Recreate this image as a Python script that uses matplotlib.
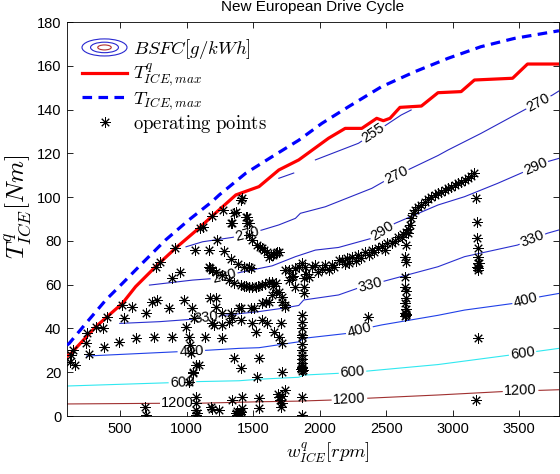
import numpy as np
import matplotlib
matplotlib.use('Agg')
import matplotlib.pyplot as plt
from matplotlib.legend_handler import HandlerBase
from matplotlib.patches import Ellipse
from matplotlib.lines import Line2D

plt.rcParams['font.family'] = ['Liberation Sans', 'DejaVu Sans']
plt.rcParams['mathtext.fontset'] = 'cm'

# ---- max torque curves
tmax_rpm = [100, 117, 242, 392, 517, 666, 841, 1015, 1190, 1245, 1444, 1643, 1843, 2017, 2217, 2464, 2716,
            2965, 3212, 3464, 3800]
tmax_T = [32.4, 33.2, 42.3, 53, 60.6, 69.8, 80.4, 89.5, 97.9, 101, 110.9, 118.5, 126, 133.7, 141.3, 150.4, 157.3,
          163.4, 168.7, 172.5, 176]

tqmax_rpm = [100, 130, 317, 517, 616, 766, 915, 1090, 1215, 1370, 1544, 1693, 1843, 2067, 2192, 2317, 2429,
             2479, 2529, 2604, 2765, 2890, 3064, 3164, 3451, 3563, 3800]
tqmax_T = [27.3, 28.6, 40.8, 51.5, 59.1, 68.2, 76.6, 85.7, 92.6, 101, 104.8, 112.4, 117, 126.9, 131.4, 131.4, 136,
           134.9, 136, 141, 141.6, 147.7, 148.2, 153.5, 154.3, 160.8, 160.8]

# ---- BSFC iso-lines [g/kWh]
bsfc_levels = [255, 270, 290, 330, 400, 600, 1200]
bsfc_rpm = {
    255: [1693, 1805, np.nan, 1968, 2292, 2613, 2688],
    270: [995, 1120, 1344, 1568, 1693, 1818, 1855, 2043, 2392, 2479, 2690, 2890, 2965, 3213, 3538, 3750, 3800],
    290: [720, 1045, 1220, 1394, 1643, 1818, 1968, 2142, 2392, 2566, 2890, 3090, 3339, 3713, 3800],
    330: [497, 796, 1045, 1295, 1544, 1718, 1843, 1880, 2142, 2292, 2491, 2890, 3090, 3488, 3713, 3800],
    400: [247, 945, 1145, 1394, 1544, 1843, 1880, 2217, 2404, 2466, 2890, 3090, 3464, 3660, 3800],
    600: [100, 870, 1070, 1394, 1544, 1843, 1880, 2142, 2354, 2890, 3439, 3800],
    1200: [100, 796, 1070, 1544, 1843, 2092, 2354, 2890, 3388, 3800],
}
bsfc_T = {
    255: [108.6, 111, np.nan, 117, 124.6, 137.5, 139.8],
    270: [77.3, 79.6, 81.6, 85, 87.3, 90.3, 92.6, 95.6, 104, 107, 113.2, 119, 121.5, 129.1, 139.8, 146.6, 148.5],
    290: [59.8, 62.1, 62.9, 65.5, 68.6, 72.8, 75.8, 77, 81.2, 88, 96.4, 100.2, 106.3, 116.2, 117.7],
    330: [42.3, 43.1, 44.2, 46.1, 47.7, 49.2, 50.5, 53, 55.3, 58.5, 61.7, 68.2, 72.8, 78.1, 83.5, 85],
    400: [27.4, 29.4, 30, 30.9, 31.2, 33.9, 35.5, 37.8, 40.8, 41.6, 46, 48.4, 51.5, 54.5, 56],
    600: [13.7, 15.2, 15.7, 16.1, 16.8, 17.7, 18.7, 19.5, 20.5, 23.5, 27.9, 30.9],
    1200: [5.5, 5.8, 5.8, 6.5, 6.8, 7.3, 8.1, 9.6, 11.2, 12],
}
bsfc_colors = {255: '#2828c4', 270: '#2828c4', 290: '#2828c8', 330: '#2a30d0',
               400: '#2040e8', 600: '#30e8f0', 1200: '#a03030'}
# label positions (rpm) per level
bsfc_label_rpm = {
    255: [2404],
    270: [1455, 2576, 3645],
    290: [1282, 2471, 3623],
    330: [1147, 2381, 3600],
    400: [1035, 2299, 3550],
    600: [968, 2247, 3526],
    1200: [930, 2224, 3511],
}

# ---- operating points of the cycle
op_rpm = [122, 130, 147, 160, 242, 247, 267, 317, 367, 379, 404, 491, 517, 529, 591, 616, 691, 741, 778,
          766, 803, 753, 865, 890, 890, 915, 953, 977, 1040, 1052, 1015, 1027, 1140, 995, 1033, 1065,
          1102, 1120, 1165, 1177, 1177, 1202, 1194, 1270, 1357, 1344, 1332, 1407, 1419, 1456, 1456, 1369,
          1225, 1282, 1332, 1388, 1432, 1469, 1482,
          1170, 1194, 1220, 1269, 1319, 1357, 1407, 1430, 1445, 1469, 1490, 1519, 1540, 1568, 1590,
          1618, 1640, 1650, 1668, 1693, 1718, 1743,
          1444, 1469, 1469, 1494, 1531, 1550, 1568, 1585, 1606, 1631, 1618, 1650, 1668, 1680, 1693,
          1220, 1220, 1194, 1269, 1344, 1407, 1482, 1407, 1494, 1519, 1593, 1668, 1718, 1568,
          1606, 1656, 1706, 1718, 1693, 1394, 1332, 1269, 1319, 1568, 1506, 1643, 1618, 1743,
          1269,
          1095, 1070, 1045, 1045, 1020, 1070, 1070, 1070, 1070, 1075, 683, 696, 1182, 1190, 1245, 1344,
          1369, 1380, 1390, 1400, 1410, 1375, 1419, 1419, 1544, 1544, 1693, 1718, 1700, 1710, 1690,
          1720, 1743, 1718, 1868, 1868, 1357, 1407, 1544, 1531,
          1868, 1866, 1868, 1866, 1868, 1866, 1868, 1866, 1868, 1866, 1868, 1862, 1870, 1865, 1872,
          1880, 1880, 1880, 1868,
          1743, 1768, 1768, 1793, 1818, 1818, 1843, 1893, 1943, 1968, 2043, 2092, 2142, 2167, 2204,
          2242, 2342, 2441, 2541, 2616, 2653, 2678, 2690, 2703, 2740, 2790, 2840, 2890, 2965, 3090, 3164,
          1800, 1900, 1920, 1990, 2020, 2070, 2110, 2190, 2220, 2270, 2290, 2310, 2370, 2390, 2410,
          2470, 2490, 2510, 2570, 2590, 2630, 2666,
          2715, 2760, 2815, 2865, 2915, 2940, 2990, 3015, 3040, 3065, 3115, 3140,
          2666, 2653, 2641, 2646, 2641, 2641, 2646, 2646, 2641, 2646, 2646, 2640, 2650, 2643, 2366,
          3177, 3185, 3185, 3190, 3190, 3190, 3190, 3185, 3195, 3190, 3190, 3177]
op_T = [24.8, 27.9, 30.2, 23.3, 33.2, 37.8, 28.3, 40.8, 40, 31.7, 45.4, 33.9, 50.7, 44.6, 49.9, 35.5, 46.9, 52.2, 53,
        68.2, 70.5, 36.2, 49.2, 62.9, 36.2, 76.6, 65.9, 53, 49.2, 44.6, 36.2, 32.4, 36.2, 40.8, 28.6, 75.8,
        85.7, 86.5, 75.8, 67.5, 53.8, 41.6, 91.5, 94, 92.6, 88, 88, 98.7, 99.5, 91, 88, 93.3,
        80.4, 75.3, 71.6, 69.4, 68.2, 68.2, 67.5,
        68.2, 66.7, 65.9, 64.4, 62.1, 60.6, 59.8, 59.4, 59.2, 59.1, 59, 59.1, 59.2, 59.8, 60.2,
        61.3, 61, 59.5, 60.6, 56.8, 54.5, 49.9,
        91, 88, 82.7, 80.4, 78.1, 77.3, 76.6, 76, 75.1, 73.6, 72.8, 73.5, 74.3, 74.8, 75.1,
        53.8, 49.9, 42.3, 41.6, 44.6, 49.2, 49.2, 43.9, 42.3, 38.5, 52.2, 56.8, 52.2, 43.9,
        42.3, 38.5, 42.3, 33.2, 36.2, 49.2, 46.9, 46.9, 43.1, 51.5, 49.2, 55.3, 52.2, 50.7,
        35.5,
        23.3, 23.3, 20.2, 19.5, 15.7, 8.8, 5.8, 2.7, 0.3, 1.5, 4.3, 0.5, 4.3, 3, 2.7, 7.3,
        1.2, 0.5, 1.5, 0.8, 2, 2.5, 8.8, 3.5, 8.1, 3.5, 8.8, 5.8, 7.3, 4, 10,
        9, 11.9, 20.2, 8.8, 0.5, 26.3, 21.8, 26.3, 18,
        46.1, 43, 40, 37, 36.2, 33, 30.2, 28, 26, 24.1, 22.5, 21.5, 22, 20.5, 21,
        59.1, 56.1, 62.9, 69.8,
        66.7, 66.7, 62.1, 63.6, 67.5, 59.1, 68.2, 68.2, 68.2, 69, 69, 69, 71.3, 71.3, 72,
        72.8, 75.1, 76.6, 78.9, 81.9, 84.2, 87.3, 90.3, 92.6, 95.6, 97.9, 100.2, 101.7, 104, 107.8, 110.9,
        64, 65, 63.5, 66, 67, 66.5, 68, 69.5, 70, 71, 73.5, 72, 73.5, 76, 75,
        77.5, 76, 79, 80, 82, 83, 85.5,
        94, 96.5, 99, 101, 102.5, 103.2, 104.8, 105.7, 106.3, 107, 108.7, 109.8,
        83.5, 78.1, 72.8, 70.5, 63.6, 59.1, 57, 53.8, 51.5, 49, 46.1, 45.5, 46.5, 47, 45.4,
        99.5, 88.8, 81.2, 76.6, 72.8, 69.8, 66.7, 68, 70, 67.5, 35.5, 7.3]


class BsfcIcon(object):
    pass


class BsfcHandler(HandlerBase):
    def create_artists(self, legend, orig_handle, xdescent, ydescent, width, height, fontsize, trans):
        cx = width / 2.0 - xdescent
        cy = height / 2.0 - ydescent
        arts = []
        for fw, fh, c in [(1.0, 1.3, '#2828d0'), (0.62, 0.8, '#2828d0'), (0.3, 0.38, '#b03030')]:
            arts.append(Ellipse((cx, cy), width * fw, height * fh, fill=False, edgecolor=c, lw=0.8,
                                transform=trans))
        return arts


fig = plt.figure(figsize=(5.6, 4.74), dpi=100)
ax = fig.add_axes([67 / 560, 1 - 416 / 474, (559 - 67) / 560, (416 - 22) / 474])
ax.set_xlim(100, 3800)
ax.set_ylim(0, 180)

for lev in bsfc_levels:
    ax.plot(bsfc_rpm[lev], bsfc_T[lev], color=bsfc_colors[lev], lw=0.8, zorder=2)

# inline labels rotated along the iso-line
for lev in bsfc_levels:
    xs = np.array(bsfc_rpm[lev], dtype=float)
    ys = np.array(bsfc_T[lev], dtype=float)
    ok = np.isfinite(xs)
    xs, ys = xs[ok], ys[ok]
    for x0 in bsfc_label_rpm[lev]:
        i = min(max(np.searchsorted(xs, x0) - 1, 0), len(xs) - 2)
        p1 = ax.transData.transform((xs[i], ys[i]))
        p2 = ax.transData.transform((xs[i + 1], ys[i + 1]))
        ang = np.degrees(np.arctan2(p2[1] - p1[1], p2[0] - p1[0]))
        y0 = ys[i] + (ys[i + 1] - ys[i]) * (x0 - xs[i]) / (xs[i + 1] - xs[i])
        ax.text(x0, y0, str(lev), rotation=ang, rotation_mode='anchor', ha='center', va='center',
                fontsize=10.5, zorder=3,
                bbox=dict(boxstyle='square,pad=0.1', fc='white', ec='none'))

ax.plot(tqmax_rpm, tqmax_T, color='#ff0000', lw=2.3, zorder=4)
ax.plot(tmax_rpm, tmax_T, color='#0000ff', lw=2.3, dashes=(3, 2), zorder=4)
ax.plot(op_rpm, op_T, ls='none', marker=(8, 2, 0), ms=7.5, mew=0.7, color='black', zorder=5)

ax.set_xticks([500, 1000, 1500, 2000, 2500, 3000, 3500])
ax.set_yticks(range(0, 181, 20))
ax.tick_params(direction='in', top=True, right=True, length=4, width=0.6, labelsize=10.5, pad=4)
for s in ax.spines.values():
    s.set_linewidth(0.6)

ax.set_xlabel(r'$w^q_{ICE}[rpm]$', fontsize=13.5)
ax.xaxis.set_label_coords(0.53, -0.063)
ax.set_ylabel(r'$T^q_{ICE}[Nm]$', fontsize=18)
ax.yaxis.set_label_coords(-0.07, 0.53)
ax.set_title('New European Drive Cycle', fontsize=11, pad=8)

h_bsfc = BsfcIcon()
h_red = Line2D([], [], color='#ff0000', lw=2.3)
h_blue = Line2D([], [], color='#0000ff', lw=2.3, dashes=(3, 2))
h_op = Line2D([], [], ls='none', marker=(8, 2, 0), ms=7.5, mew=0.7, color='black')
leg = ax.legend([h_bsfc, h_red, h_blue, h_op],
                [r'$BSFC[g/kWh]$', r'$T^q_{ICE,max}$', r'$T_{ICE,max}$', r'$\mathrm{operating\ points}$'],
                handler_map={BsfcIcon: BsfcHandler()}, loc='upper left', bbox_to_anchor=(0.0, 1.0),
                frameon=False, fontsize=13.5, handlelength=2.4, handletextpad=0.3, labelspacing=0.05,
                borderaxespad=0.4)
leg.set_zorder(6)

fig.savefig('out.png', dpi=100)
